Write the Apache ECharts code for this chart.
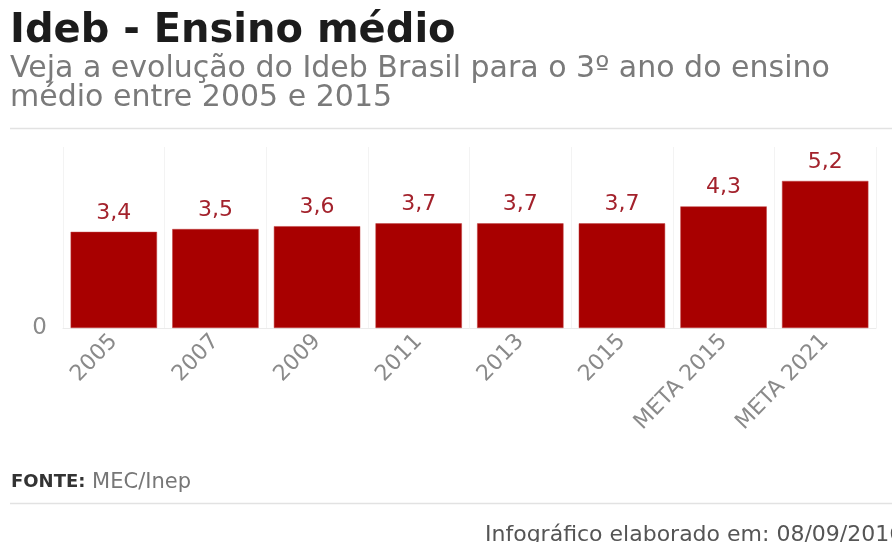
<!DOCTYPE html>
<html><head><meta charset="utf-8">
<script src="https://cdn.jsdelivr.net/npm/echarts@6/dist/echarts.min.js"></script>
<style>html,body{margin:0;padding:0;background:#fff}#c{width:892px;height:542px}</style>
</head><body><div id="c"></div>
<script>
const categories = ['2005','2007','2009','2011','2013','2015','META 2015','META 2021'];
const values = [3.4, 3.5, 3.6, 3.7, 3.7, 3.7, 4.3, 5.2];
const yTicks = [0];

const F = 'DejaVu Sans';
const chart = echarts.init(document.getElementById('c'));
chart.setOption({
  backgroundColor: '#fff',
  animation: false,
  title: [
    {text: 'Ideb - Ensino médio', left: 10, top: 12, padding: 0,
     textStyle: {fontFamily: F, fontWeight: 'bold', fontSize: 40, lineHeight: 40, color: '#1c1c1c'}},
    {text: 'Veja a evolução do Ideb Brasil para o 3º ano do ensino\nmédio entre 2005 e 2015', left: 10, top: 55, padding: 0,
     textStyle: {fontFamily: F, fontWeight: 'normal', fontSize: 30, lineHeight: 29, color: '#7a7a7a'}},
    {text: '{b|FONTE:} MEC/Inep', left: 11, top: 472, padding: 0,
     textStyle: {fontFamily: F, fontWeight: 'normal', fontSize: 21, color: '#777', rich: {b: {fontFamily: F, fontSize: 18, fontWeight: 'bold', color: '#333'}}}},
    {text: 'Infográfico elaborado em: 08/09/2016', left: 485, top: 524, padding: 0,
     textStyle: {fontFamily: F, fontWeight: 'normal', fontSize: 22, color: '#555'}}
  ],
  graphic: [
    {type: 'line', shape: {x1: 10, y1: 128.5, x2: 892, y2: 128.5}, style: {stroke: '#e2e2e2', lineWidth: 1.5}},
    {type: 'line', shape: {x1: 10, y1: 503.5, x2: 892, y2: 503.5}, style: {stroke: '#e2e2e2', lineWidth: 1.5}}
  ],
  grid: {left: 63, right: 16, top: 147, bottom: 214},
  xAxis: {
    type: 'category', data: categories,
    axisLine: {show: true, lineStyle: {color: '#ebebeb', width: 1}},
    axisTick: {show: false},
    splitLine: {show: true, lineStyle: {color: '#f3f3f3', width: 1}},
    axisLabel: {rotate: 46, interval: 0, color: '#8a8a8a', fontFamily: F, fontSize: 22, margin: 10}
  },
  yAxis: {
    type: 'value', min: 0, max: 6.4, interval: 6.4,
    axisLine: {show: false}, axisTick: {show: false},
    splitLine: {show: false},
    axisLabel: {color: '#8a8a8a', fontFamily: F, fontSize: 23, margin: 16,
      formatter: v => yTicks.indexOf(v) >= 0 ? String(v) : ''}
  },
  series: [{
    type: 'bar', data: values, barWidth: '85%',
    itemStyle: {color: '#a80000', borderColor: '#c04040', borderWidth: 0.5},
    label: {show: true, position: 'top', distance: 8, color: '#a3222c', fontFamily: F, fontSize: 22,
      formatter: p => String(p.value).replace('.', ',')}
  }]
});
</script></body></html>
